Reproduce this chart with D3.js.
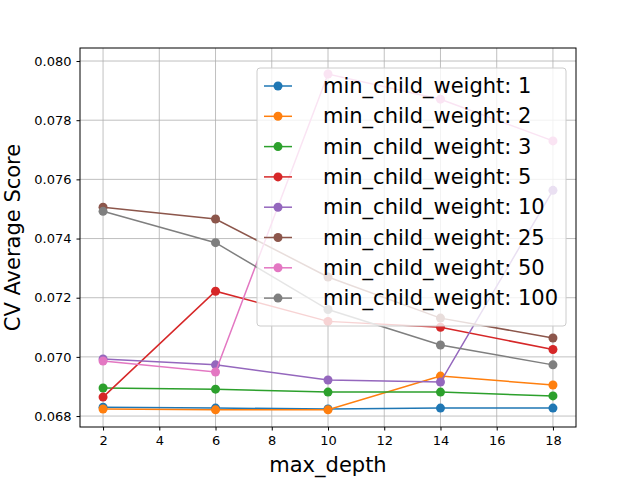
<!DOCTYPE html>
<html><head><meta charset="utf-8">
<script src="https://cdn.jsdelivr.net/npm/d3@7"></script>
<style>body{margin:0;background:#fff}text{font-family:"DejaVu Sans",sans-serif}</style>
</head><body><svg width="640" height="480"></svg>
<script>
var depths=[2,6,10,14,18];
var weights=[1,2,3,5,10,25,50,100];
var colors=['#1f77b4','#ff7f0e','#2ca02c','#d62728','#9467bd','#8c564b','#e377c2','#7f7f7f'];
var scores=[
  [0.06830,0.06827,0.06824,0.06827,0.06827],
  [0.06824,0.06821,0.06821,0.06935,0.06905],
  [0.06895,0.06891,0.06881,0.06881,0.06868],
  [0.06864,0.07222,0.07120,0.07100,0.07025],
  [0.06993,0.06973,0.06922,0.06915,0.07563],
  [0.07506,0.07466,0.07270,0.07131,0.07064],
  [0.06986,0.06949,0.07956,0.07871,0.07730],
  [0.07492,0.07386,0.07160,0.07040,0.06973]
];
var yTicks=[0.068,0.070,0.072,0.074,0.076,0.078,0.080];
var xTicks=[2,4,6,8,10,12,14,16,18];

var svg=d3.select('svg');
var L=80,R=576,T=48,B=427;
var x=d3.scaleLinear().domain([1.18,18.82]).range([L,R]);
var y=d3.scaleLinear().domain([0.06763,0.08044]).range([B,T]);

var g=svg.append('g');
g.selectAll('.gx').data(xTicks).enter().append('line')
  .attr('x1',function(d){return x(d);}).attr('x2',function(d){return x(d);})
  .attr('y1',T).attr('y2',B).attr('stroke','#b0b0b0').attr('stroke-width',0.8);
g.selectAll('.gy').data(yTicks).enter().append('line')
  .attr('y1',function(d){return y(d);}).attr('y2',function(d){return y(d);})
  .attr('x1',L).attr('x2',R).attr('stroke','#b0b0b0').attr('stroke-width',0.8);

var line=d3.line().x(function(d,i){return x(depths[i]);}).y(function(d){return y(d);});
scores.forEach(function(s,k){
  svg.append('path').attr('d',line(s)).attr('fill','none').attr('stroke',colors[k]).attr('stroke-width',1.5);
  svg.selectAll('.m'+k).data(s).enter().append('circle')
    .attr('cx',function(d,i){return x(depths[i]);}).attr('cy',function(d){return y(d);})
    .attr('r',4.5).attr('fill',colors[k]);
});

var xa=svg.append('g').attr('transform','translate(0,'+B+')')
  .call(d3.axisBottom(x).tickValues(xTicks).tickSize(3.5).tickPadding(5));
var ya=svg.append('g').attr('transform','translate('+L+',0)')
  .call(d3.axisLeft(y).tickValues(yTicks).tickFormat(d3.format('.3f')).tickSize(3.5).tickPadding(5));
[xa,ya].forEach(function(a){a.select('.domain').remove();a.selectAll('text').style('font-size','13px').attr('fill','#000');a.selectAll('line').attr('stroke','#000');});
svg.append('rect').attr('x',L).attr('y',T).attr('width',R-L).attr('height',B-T)
  .attr('fill','none').attr('stroke','#000').attr('stroke-width',1);

svg.append('text').attr('x',(L+R)/2).attr('y',472).attr('text-anchor','middle').style('font-size','21px').text('max_depth');
svg.append('text').attr('transform','translate(20,'+((T+B)/2)+') rotate(-90)').attr('text-anchor','middle').style('font-size','21px').text('CV Average Score');

var lg=svg.append('g').attr('transform','translate(257,68)');
lg.append('rect').attr('width',309).attr('height',258).attr('rx',3)
  .attr('fill','#fff').attr('fill-opacity',0.8).attr('stroke','#ccc');
weights.forEach(function(w,k){
  var yy=18+k*30.3;
  lg.append('line').attr('x1',7).attr('x2',35).attr('y1',yy).attr('y2',yy).attr('stroke',colors[k]).attr('stroke-width',1.5);
  lg.append('circle').attr('cx',21).attr('cy',yy).attr('r',4.5).attr('fill',colors[k]);
  lg.append('text').attr('x',66).attr('y',yy+7).style('font-size','21px').text('min_child_weight: '+w);
});
</script></body></html>
